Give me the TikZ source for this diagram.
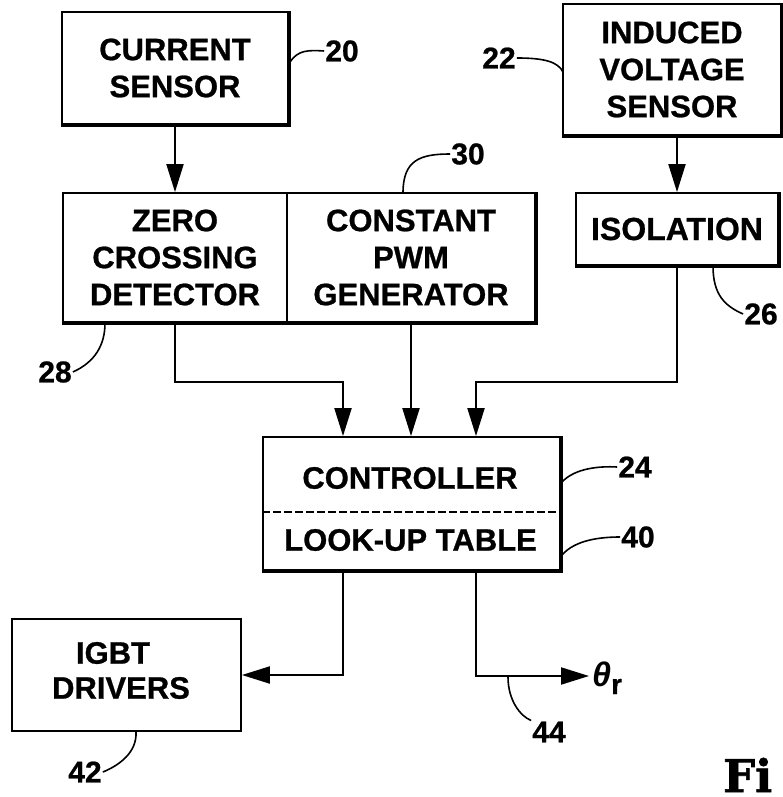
\documentclass[tikz,border=0pt]{standalone}
\usepackage{fontspec}
\setmainfont{Liberation Sans}[BoldFeatures={FakeBold=0.8}]
\newfontfamily\figfont{DejaVu Serif}[BoldFeatures={FakeBold=1.5}]
\usetikzlibrary{arrows.meta}
\begin{document}
\begin{tikzpicture}[x=1pt,y=-1pt,
  box/.style={draw, line width=1.8pt, inner sep=0pt, align=center,
    font=\bfseries\fontsize{31}{37}\selectfont},
  txt/.style={inner sep=0pt, font=\bfseries\fontsize{31}{37}\selectfont},
  rim/.style={line width=3.6pt},
  wire/.style={line width=2pt},
  arr/.style={wire, -{Triangle[length=28pt,width=17pt]}},
  lead/.style={line width=1.6pt},
  num/.style={inner sep=1pt, font=\bfseries\fontsize{30}{36}\selectfont}
]
\useasboundingbox (0,0) rectangle (783,797);
\clip (0,0) rectangle (783,797);

% blocks
\node[box, minimum width=226pt, minimum height=112pt] (cs) at (175,68) {CURRENT\\SENSOR};
\node[box, minimum width=224pt, minimum height=129pt] (zc) at (175,257.5) {ZERO\\CROSSING\\DETECTOR};
\node[box, minimum width=248pt, minimum height=129pt] (pwm) at (411,257.5) {CONSTANT\\PWM\\GENERATOR};
\node[box, minimum width=218pt, minimum height=131pt] (ivs) at (672,69.5) {INDUCED\\VOLTAGE\\SENSOR};
\node[box, minimum width=202pt, minimum height=72pt,
  font=\bfseries\fontsize{32}{37}\selectfont] (iso) at (677,229) {ISOLATION};
\node[box, minimum width=297pt, minimum height=133pt] (ctl) at (411.5,503.5) {};
\node[txt] (ctlA) at (410,478) {CONTROLLER};
\node[txt] (ctlB) at (410.5,540) {LOOK-UP TABLE};
\node[box, minimum width=229pt, minimum height=112pt] (igbt) at (126.5,675) {};
\node[txt] (igbtA) at (113,653) {IGBT};
\node[txt] (igbtB) at (121,688) {DRIVERS};

% heavy lower and right edges
\draw[rim] (cs.south west) -- (cs.south east) -- (cs.north east);
\draw[rim] (zc.south west) -- (pwm.south east) -- (pwm.north east);
\draw[rim] (ivs.south west) -- (ivs.south east) -- (ivs.north east);
\draw[rim] (iso.south west) -- (iso.south east) -- (iso.north east);
\draw[rim] (ctl.south west) -- (ctl.south east) -- (ctl.north east);

% controller / look-up table divider
\draw[line width=2.6pt, dash pattern=on 8pt off 3pt] (ctl.west |- 0,512) -- (ctl.east |- 0,512);

% junction points of the signal paths
\coordinate (jl) at (343,382);
\coordinate (jr) at (476,382);
\coordinate (tip) at (589,676);

% signal paths
\draw[arr] (cs.south) -- (zc.north);
\draw[arr] (ivs.south -| iso.north) -- (iso.north);
\draw[arr] (zc.south) |- (jl) -- (jl |- ctl.north);
\draw[arr] (pwm.south) -- (pwm.south |- ctl.north);
\draw[arr] (iso.south) |- (jr) -- (jr |- ctl.north);
\draw[arr] (ctl.south -| jl) |- (igbt.east);
\draw[arr] (ctl.south -| jr) |- (tip);

% output symbol
\node[anchor=base west, inner sep=0pt, font=\bfseries\itshape\fontsize{34}{36}\selectfont] (th)
  at (592,686) {θ\raisebox{-8pt}{\upshape\fontsize{28}{30}\selectfont r}};

% reference numerals
\node[num] (l20) at (342,51) {20};
\node[num] (l22) at (499,58) {22};
\node[num] (l30) at (468,154) {30};
\node[num] (l26) at (761,314) {26};
\node[num] (l28) at (55,372) {28};
\node[num] (l24) at (635,467) {24};
\node[num] (l40) at (638,537) {40};
\node[num] (l42) at (85,772) {42};
\node[num] (l44) at (549,732) {44};

\coordinate (a20) at (290,62);
\coordinate (a22) at (563,72);
\coordinate (a30) at (403,193);
\coordinate (a26) at (713,266);
\coordinate (a28) at (105,323);
\coordinate (a24) at (562,482);
\coordinate (a40) at (562,555);
\coordinate (a42) at (136,732);
\coordinate (a44) at (508,677);

\draw[lead] (a20) .. controls (298,50) and (308,50) .. (l20.west);
\draw[lead] (l22.east) .. controls (545,58) and (558,62) .. (a22);
\draw[lead] (a30) .. controls (403,160) and (420,154) .. (l30.west);
\draw[lead] (a26) .. controls (713,295) and (725,306) .. (l26.west);
\draw[lead] (a28) .. controls (105,345) and (95,362) .. (l28.east);
\draw[lead] (a24) .. controls (575,468) and (600,466) .. (l24.west);
\draw[lead] (a40) .. controls (575,540) and (600,537) .. (l40.west);
\draw[lead] (a42) .. controls (137,752) and (120,765) .. (l42.east);
\draw[lead] (a44) .. controls (508,700) and (520,716) .. (l44.north west);

% figure caption in the lower right corner
\node[anchor=base west, inner sep=0pt, font=\figfont\bfseries\fontsize{45}{45}\selectfont] (fig)
  at (723,792) {Fi};
\end{tikzpicture}
\end{document}
